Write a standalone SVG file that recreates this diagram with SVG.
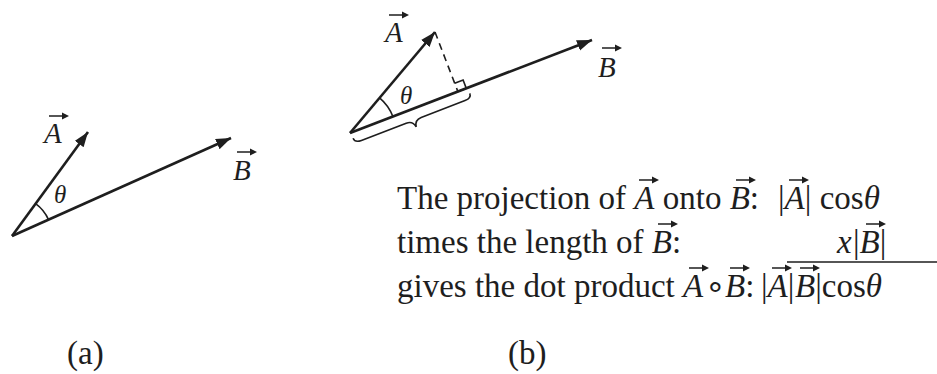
<svg xmlns="http://www.w3.org/2000/svg" xmlns:xlink="http://www.w3.org/1999/xlink" width="937" height="374" viewBox="0 0 937 374">
<style>
text{font-family:"Liberation Serif","Times New Roman",serif;fill:#1e1e1e;}
.t{font-size:33px;}
.i{font-style:italic;}
.lbl{font-size:29px;font-style:italic;}
.th{font-size:25px;font-style:italic;}
.vec{stroke:#1e1e1e;stroke-width:2.6;fill:none;}
.thin{stroke:#1e1e1e;stroke-width:1.6;fill:none;}
.va{stroke:#1e1e1e;stroke-width:1.5;fill:none;}
</style>
<defs>
<marker id="ah" markerUnits="userSpaceOnUse" markerWidth="16" markerHeight="12" refX="15" refY="5.5" orient="auto">
<path d="M0,0 L15,5.5 L0,11 z" fill="#1e1e1e"/>
</marker>
<g id="ov">
<path class="va" d="M0,0 H15"/>
<path d="M13,-3.5 L20,0 L13,3.5 z" fill="#1e1e1e"/>
</g>
</defs>
<rect width="937" height="374" fill="#fff"/>

<g id="connectors">
<line id="a-A" class="vec" x1="12" y1="236" x2="88" y2="132" marker-end="url(#ah)"/>
<line id="a-B" class="vec" x1="12" y1="236" x2="231" y2="138" marker-end="url(#ah)"/>
<line id="b-A" class="vec" x1="350" y1="133" x2="435" y2="32" marker-end="url(#ah)"/>
<line id="b-B" class="vec" x1="350" y1="133" x2="592" y2="40" marker-end="url(#ah)"/>
<line id="b-proj" class="thin" x1="435" y1="32" x2="457.9" y2="91.6" stroke-dasharray="7,5"/>
</g>

<g id="fig-a">
<path class="thin" d="M35.6,203.7 A40,40 0 0,1 48.5,219.7"/>
<text class="th" x="54" y="203">θ</text>
<text class="lbl" x="44" y="143">A</text>
<use xlink:href="#ov" x="49" y="116"/>
<text class="lbl" x="233" y="180">B</text>
<use xlink:href="#ov" x="237" y="152"/>
<text class="t" x="67" y="364">(a)</text>
</g>

<g id="fig-b">
<path class="thin" d="M379.6,97.8 A46,46 0 0,1 392.9,116.5"/>
<text class="th" x="400" y="104">θ</text>
<path class="thin" d="M457.9,91.6 L466.3,88.4 L463.1,80.0 L454.7,83.2"/>
<path class="thin" transform="translate(350,133) rotate(-21.02)" d="M1,6 Q1,11 8,11 L56,11 Q63,11 64,18 Q65,11 72,11 L119,11 Q126,11 126,6"/>
<text class="lbl" x="385" y="42">A</text>
<use xlink:href="#ov" x="389" y="15"/>
<text class="lbl" x="598" y="77">B</text>
<use xlink:href="#ov" x="602" y="48"/>
<text class="t" x="508" y="364">(b)</text>
</g>

<g id="text-lines">
<text class="t" y="209"><tspan x="397">The projection of </tspan><tspan class="i">A</tspan><tspan> onto </tspan><tspan class="i">B</tspan><tspan>:</tspan><tspan x="778">|</tspan><tspan class="i">A</tspan><tspan>| cos</tspan><tspan class="i">θ</tspan></text>
<use xlink:href="#ov" x="639" y="180"/>
<use xlink:href="#ov" x="736" y="180"/>
<use xlink:href="#ov" x="789" y="180"/>

<text class="t" y="253"><tspan x="397">times the length of </tspan><tspan class="i">B</tspan><tspan>:</tspan><tspan x="837" class="i">x</tspan><tspan x="853">|</tspan><tspan class="i">B</tspan><tspan>|</tspan></text>
<use xlink:href="#ov" x="658" y="224"/>
<use xlink:href="#ov" x="866" y="224"/>
<line class="thin" x1="787" y1="262" x2="937" y2="262"/>

<text class="t" y="297"><tspan x="397">gives the dot product </tspan><tspan class="i">A</tspan><tspan x="705">∘</tspan><tspan x="725" class="i">B</tspan><tspan>:</tspan><tspan x="761">|</tspan><tspan class="i">A</tspan><tspan>|</tspan><tspan x="795" class="i">B</tspan><tspan>|cos</tspan><tspan class="i">θ</tspan></text>
<use xlink:href="#ov" x="689" y="268"/>
<use xlink:href="#ov" x="730" y="268"/>
<use xlink:href="#ov" x="772" y="268"/>
<use xlink:href="#ov" x="800" y="268"/>
</g>
</svg>
